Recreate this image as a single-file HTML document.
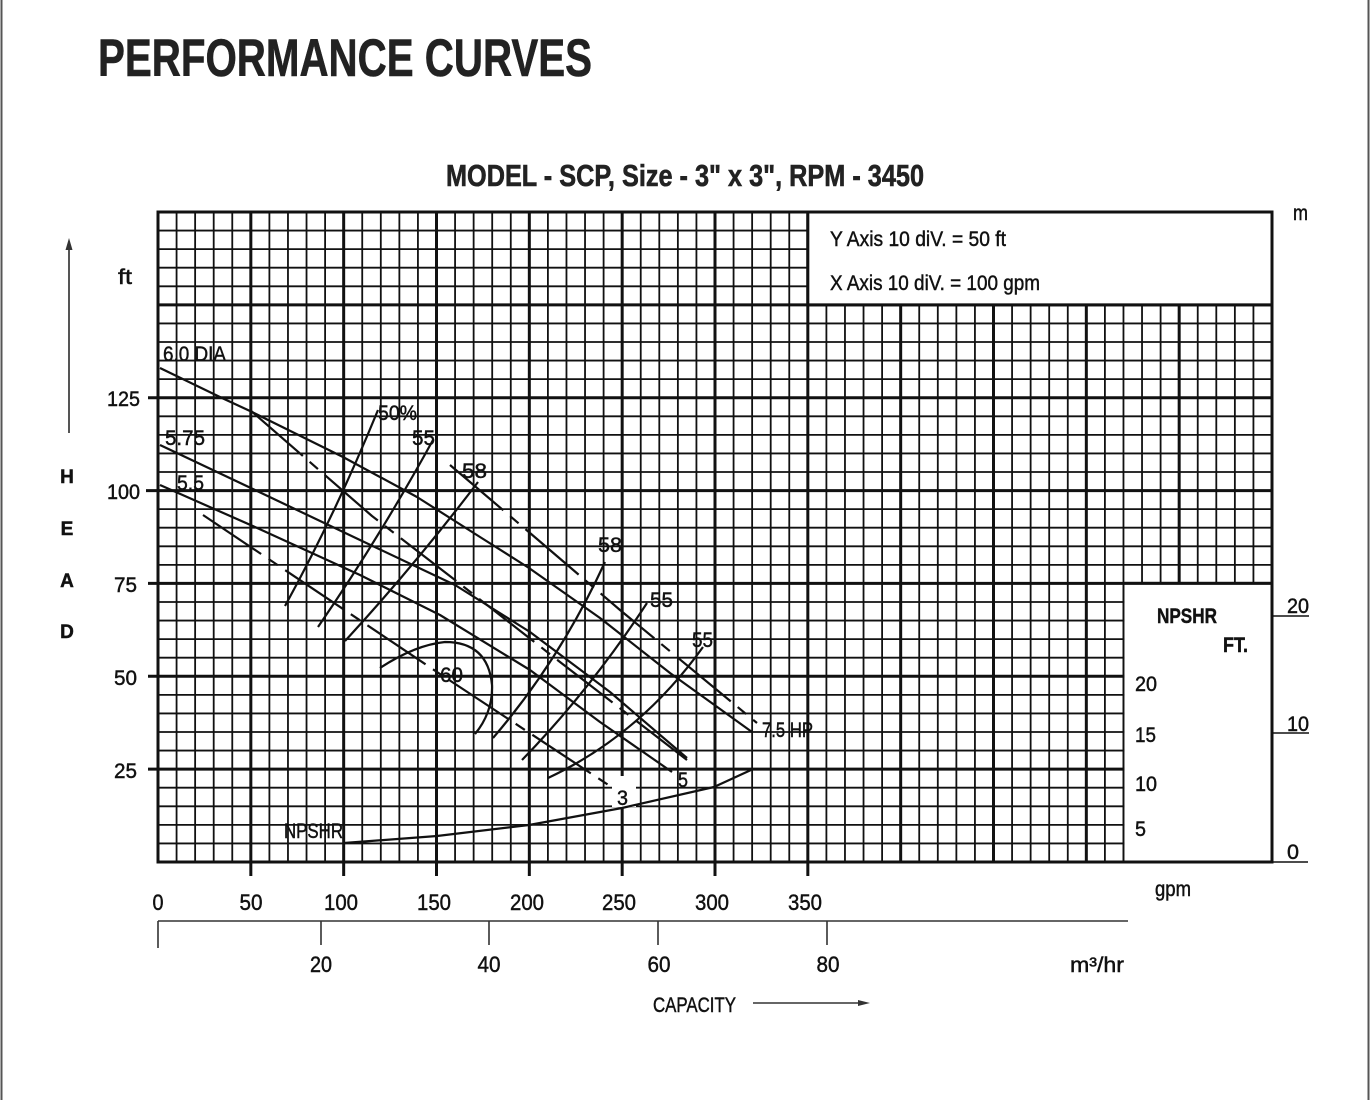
<!DOCTYPE html>
<html><head><meta charset="utf-8"><style>html,body{margin:0;padding:0;background:#fff;}svg{display:block}
.t{stroke:#111;stroke-width:0.45px;}
.tb{stroke:#222;stroke-width:0.6px;}
</style></head>
<body>
<svg width="1370" height="1100" viewBox="0 0 1370 1100" xmlns="http://www.w3.org/2000/svg" font-family="'Liberation Sans Narrow','Liberation Sans',sans-serif">
<rect width="1370" height="1100" fill="#fff"/>
<!-- page borders -->
<line x1="1.5" y1="0" x2="1.5" y2="1100" stroke="#555" stroke-width="2"/>
<line x1="1368.5" y1="0" x2="1368.5" y2="1100" stroke="#555" stroke-width="2"/>

<!-- titles -->
<text class="tb" x="98" y="76" font-size="53" font-weight="bold" fill="#222" textLength="494" lengthAdjust="spacingAndGlyphs">PERFORMANCE CURVES</text>
<text class="tb" x="446" y="186" font-size="31" font-weight="bold" fill="#222" textLength="478" lengthAdjust="spacingAndGlyphs">MODEL - SCP, Size - 3" x 3", RPM - 3450</text>

<!-- minor grid -->
<path fill="none" stroke="#111" stroke-width="1.8" d="
M176.57 212V862M195.13 212V862M213.7 212V862M232.27 212V862
M269.4 212V862M287.97 212V862M306.53 212V862M325.1 212V862
M362.23 212V862M380.8 212V862M399.37 212V862M417.93 212V862
M455.07 212V862M473.63 212V862M492.2 212V862M510.77 212V862
M547.9 212V862M566.47 212V862M585.03 212V862M603.6 212V862
M640.73 212V862M659.3 212V862M677.87 212V862M696.43 212V862
M733.57 212V862M752.13 212V862M770.7 212V862M789.27 212V862
M826.4 212V862M844.97 212V862M863.53 212V862M882.1 212V862
M919.23 212V862M937.8 212V862M956.37 212V862M974.93 212V862
M1012.07 212V862M1030.63 212V862M1049.2 212V862M1067.77 212V862
M1104.9 212V862M1123.47 212V862M1142.03 212V862M1160.6 212V862
M1197.73 212V862M1216.3 212V862M1234.87 212V862M1253.43 212V862
M158 230.57H1272M158 249.14H1272M158 267.71H1272M158 286.29H1272
M158 323.43H1272M158 342H1272M158 360.57H1272M158 379.14H1272
M158 416.29H1272M158 434.86H1272M158 453.43H1272M158 472H1272
M158 509.14H1272M158 527.71H1272M158 546.29H1272M158 564.86H1272
M158 602H1272M158 620.57H1272M158 639.14H1272M158 657.71H1272
M158 694.86H1272M158 713.43H1272M158 732H1272M158 750.57H1272
M158 787.71H1272M158 806.29H1272M158 824.86H1272M158 843.43H1272"/>
<!-- major grid -->
<path fill="none" stroke="#111" stroke-width="3" d="
M250.83 212V876M343.67 212V876M436.5 212V876M529.33 212V876M622.17 212V876M715 212V876M807.83 212V876
M900.67 212V862M993.5 212V862M1086.33 212V862M1179.17 212V862
M158 304.86H1272M148 397.71H1272M146 490.57H1272M148 583.43H1272M148 676.29H1272M148 769.14H1272"/>

<!-- white boxes -->
<rect x="809" y="213" width="462" height="91" fill="#fff"/>
<rect x="1124.5" y="584.5" width="147" height="277" fill="#fff"/>
<rect x="612" y="776" width="24" height="31" fill="#fff"/>
<!-- box borders -->
<rect x="807.83" y="212" width="464.17" height="92.86" fill="none" stroke="#111" stroke-width="3"/>
<line x1="1123.47" y1="583.43" x2="1123.47" y2="862" stroke="#111" stroke-width="1.8"/>
<line x1="1123.47" y1="583.43" x2="1272" y2="583.43" stroke="#111" stroke-width="3"/>
<!-- outer border -->
<rect x="158" y="212" width="1114" height="650" fill="none" stroke="#111" stroke-width="3"/>

<!-- legend text -->
<text class="t" x="830" y="246" font-size="21" fill="#111" textLength="176" lengthAdjust="spacingAndGlyphs">Y Axis 10 diV. = 50 ft</text>
<text class="t" x="830" y="290" font-size="21" fill="#111" textLength="210" lengthAdjust="spacingAndGlyphs">X Axis 10 diV. = 100 gpm</text>

<!-- curves -->
<g fill="none" stroke="#111" stroke-width="2.2" stroke-linejoin="round" stroke-linecap="butt">
<path d="M160,368 L222,398 L250,411 L343,457 L417,497 L480,537 L529,568 L600,618 L670,673 L752,732"/>
<path d="M160,445 L255,490 L360,540 L455,585 L530,632 L610,692 L687,758"/>
<path d="M160,485 L255,527 L360,575 L440,615 L530,670 L600,722 L672,772"/>
<g stroke-dasharray="70 9 11 9">
<path d="M450,465 L530,533 L620,610 L757,723"/>
<path d="M250,410 L372,516 L455,580 L560,662 L687,760"/>
<path d="M203,515 L437,672 L613,788"/>
</g>
<path d="M285,606 Q335,515 378,410"/>
<path d="M318,627 Q378,540 433,440"/>
<path d="M345,641 Q415,565 478,482"/>
<path d="M380,668 Q415,645 445,642 Q488,642 492,685 Q493,712 475,734"/>
<path d="M493,738 Q560,660 605,562"/>
<path d="M522,760 Q590,690 647,603"/>
<path d="M548,778 Q640,735 703,647"/>
<path d="M344,843 L437,836 L529,825 L622,808 L714,787 L751,770"/>
</g>

<!-- curve labels -->
<g class="t" font-size="21" fill="#111">
<text x="163" y="361" textLength="63" lengthAdjust="spacingAndGlyphs">6.0 DIA</text>
<text x="165" y="445" textLength="40" lengthAdjust="spacingAndGlyphs">5.75</text>
<text x="177" y="490" textLength="27" lengthAdjust="spacingAndGlyphs">5.5</text>
<text x="378" y="420" textLength="39" lengthAdjust="spacingAndGlyphs">50%</text>
<text x="412" y="445" textLength="23" lengthAdjust="spacingAndGlyphs">55</text>
<text x="462" y="478" textLength="25" lengthAdjust="spacingAndGlyphs">58</text>
<text x="598" y="552" textLength="24" lengthAdjust="spacingAndGlyphs">58</text>
<text x="650" y="607" textLength="23" lengthAdjust="spacingAndGlyphs">55</text>
<text x="692" y="647" textLength="21" lengthAdjust="spacingAndGlyphs">55</text>
<text x="762" y="737" textLength="51" lengthAdjust="spacingAndGlyphs">7.5 HP</text>
<text x="678" y="787" textLength="10" lengthAdjust="spacingAndGlyphs">5</text>
<text x="617" y="805" textLength="11" lengthAdjust="spacingAndGlyphs">3</text>
<text x="440" y="682" textLength="23" lengthAdjust="spacingAndGlyphs">60</text>
<text x="284" y="838" textLength="59" lengthAdjust="spacingAndGlyphs">NPSHR</text>
</g>

<!-- NPSHR box text -->
<g class="t" fill="#111">
<text x="1157" y="623" font-size="21" font-weight="bold" textLength="60" lengthAdjust="spacingAndGlyphs">NPSHR</text>
<text x="1223" y="652" font-size="21" font-weight="bold" textLength="25" lengthAdjust="spacingAndGlyphs">FT.</text>
<text x="1135" y="691" font-size="21" textLength="22" lengthAdjust="spacingAndGlyphs">20</text>
<text x="1135" y="742" font-size="21" textLength="21" lengthAdjust="spacingAndGlyphs">15</text>
<text x="1135" y="791" font-size="21" textLength="22" lengthAdjust="spacingAndGlyphs">10</text>
<text x="1135" y="836" font-size="21" textLength="11" lengthAdjust="spacingAndGlyphs">5</text>
</g>

<!-- right m axis -->
<g class="t" fill="#111" font-size="21">
<text x="1293" y="220" textLength="15" lengthAdjust="spacingAndGlyphs">m</text>
<text x="1287" y="613" textLength="22" lengthAdjust="spacingAndGlyphs">20</text>
<text x="1287" y="731" textLength="22" lengthAdjust="spacingAndGlyphs">10</text>
<text x="1287" y="859" textLength="12" lengthAdjust="spacingAndGlyphs">0</text>
</g>
<path d="M1272 616H1309M1272 733H1309M1272 862H1308" stroke="#111" stroke-width="1.6" fill="none"/>

<!-- left axis -->
<line x1="69" y1="248" x2="69" y2="433" stroke="#555" stroke-width="2"/>
<polygon points="69,238 65.5,250 72.5,250" fill="#333"/>
<text class="t" x="118" y="284" font-size="21" fill="#111" textLength="14" lengthAdjust="spacingAndGlyphs">ft</text>
<g class="t" font-size="19" font-weight="bold" fill="#111" text-anchor="middle">
<text x="67" y="483">H</text>
<text x="67" y="535">E</text>
<text x="67" y="587">A</text>
<text x="67" y="638">D</text>
</g>
<g class="t" font-size="21" fill="#111" text-anchor="end">
<text x="140" y="406" textLength="33" lengthAdjust="spacingAndGlyphs">125</text>
<text x="140" y="499" textLength="33" lengthAdjust="spacingAndGlyphs">100</text>
<text x="137" y="592" textLength="23" lengthAdjust="spacingAndGlyphs">75</text>
<text x="137" y="685" textLength="23" lengthAdjust="spacingAndGlyphs">50</text>
<text x="137" y="778" textLength="23" lengthAdjust="spacingAndGlyphs">25</text>
</g>

<!-- x axis gpm labels -->
<g class="t" font-size="22" fill="#111" text-anchor="middle">
<text x="158" y="910" textLength="11" lengthAdjust="spacingAndGlyphs">0</text>
<text x="251" y="910" textLength="23" lengthAdjust="spacingAndGlyphs">50</text>
<text x="341" y="910" textLength="34" lengthAdjust="spacingAndGlyphs">100</text>
<text x="434" y="910" textLength="34" lengthAdjust="spacingAndGlyphs">150</text>
<text x="527" y="910" textLength="34" lengthAdjust="spacingAndGlyphs">200</text>
<text x="619" y="910" textLength="34" lengthAdjust="spacingAndGlyphs">250</text>
<text x="712" y="910" textLength="34" lengthAdjust="spacingAndGlyphs">300</text>
<text x="805" y="910" textLength="34" lengthAdjust="spacingAndGlyphs">350</text>
</g>
<text class="t" x="1155" y="896" font-size="21" fill="#111" textLength="36" lengthAdjust="spacingAndGlyphs">gpm</text>

<!-- m3/hr axis -->
<path d="M158 921H1128M158 921V948M321 921V945M489 921V945M658 921V945M827 921V945" stroke="#333" stroke-width="1.6" fill="none"/>
<g class="t" font-size="22" fill="#111" text-anchor="middle">
<text x="321" y="972" textLength="22" lengthAdjust="spacingAndGlyphs">20</text>
<text x="489" y="972" textLength="23" lengthAdjust="spacingAndGlyphs">40</text>
<text x="659" y="972" textLength="23" lengthAdjust="spacingAndGlyphs">60</text>
<text x="828" y="972" textLength="23" lengthAdjust="spacingAndGlyphs">80</text>
</g>
<text class="t" x="1070" y="972" font-size="21" fill="#111" textLength="54" lengthAdjust="spacingAndGlyphs">m³/hr</text>

<!-- capacity -->
<text class="t" x="653" y="1012" font-size="21" fill="#111" textLength="83" lengthAdjust="spacingAndGlyphs">CAPACITY</text>
<line x1="753" y1="1003" x2="860" y2="1003" stroke="#333" stroke-width="1.6"/>
<polygon points="870,1003 858,1000 858,1006" fill="#333"/>
</svg>
</body></html>
